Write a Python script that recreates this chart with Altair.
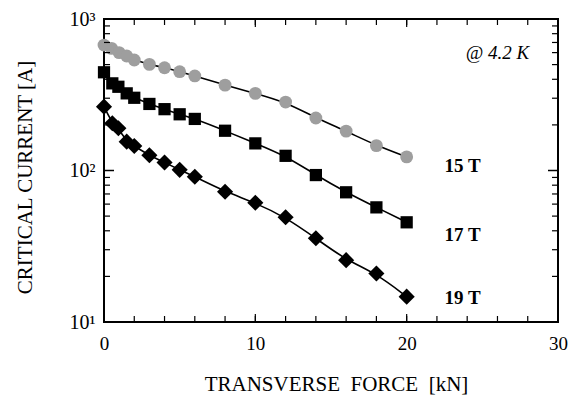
import altair as alt
import pandas as pd

# ---- data ----
force_15 = [0, 0.5, 1.0, 1.5, 2, 3, 4, 5, 6, 8, 10, 12, 14, 16, 18, 20]
ic_15 = [673, 640, 600, 570, 536, 502, 477, 449, 421, 366, 323, 283, 222, 182, 146, 123]

force_17 = [0, 0.55, 0.95, 1.5, 2, 3, 4, 5, 6, 8, 10, 12, 14, 16, 18, 20]
ic_17 = [445, 376, 357, 323, 302, 275, 254, 235, 219, 183, 151, 125, 93.3, 71.8, 57.1, 45.5]

force_19 = [0, 0.55, 0.95, 1.5, 2, 3, 4, 5, 6, 8, 10, 12, 14, 16, 18, 20]
ic_19 = [264, 205, 190, 155, 145, 126, 113, 101, 91, 72.4, 61.2, 49.1, 35.7, 25.6, 20.9, 14.7]

series_names = ["15 T", "17 T", "19 T"]
label_x = [23.7, 23.7, 23.7]
label_y = [107.7, 37.5, 14.3]

note_text = ["@ 4.2 K"]
note_x = [26.0]
note_y = [592]

x_tick_labels = [0, 10, 20, 30]
y_tick_labels = [10, 100, 1000]
x_minor = [v for v in range(0, 31, 2)]
y_major = [10, 100, 1000]
y_minor = [m * d for d in (10, 100) for m in range(2, 10)]

# ---- tables ----
rows = []
for name, xs, ys in zip(series_names, [force_15, force_17, force_19], [ic_15, ic_17, ic_19]):
    for xv, yv in zip(xs, ys):
        rows.append({"series": name, "force": xv, "ic": yv})
df = pd.DataFrame(rows)
labels_df = pd.DataFrame({"text": series_names, "x": label_x, "y": label_y})
note_df = pd.DataFrame({"text": note_text, "x": note_x, "y": note_y})
xminor_df = pd.DataFrame({"x": x_minor})
xmajor_df = pd.DataFrame({"x": x_tick_labels})
ymajor_df = pd.DataFrame({"y": y_major})
yminor_df = pd.DataFrame({"y": y_minor})

W, H = 454, 303
FONT = "Liberation Serif"

xscale = alt.Scale(domain=[0, 30], nice=False, zero=False)
yscale = alt.Scale(type="log", domain=[10, 1000], nice=False)

sup = "datum.value == 1000 ? '10\u00b3' : (datum.value == 100 ? '10\u00b2' : '10\u00b9')"

x_enc = alt.X("force:Q", scale=xscale,
              axis=alt.Axis(values=x_tick_labels, ticks=False, domain=False, grid=False,
                            labelFont=FONT, labelFontSize=19, labelColor="black",
                            labelPadding=12, labelFlush=False,
                            title="TRANSVERSE\u00a0\u00a0FORCE\u00a0\u00a0[kN]",
                            titleFont=FONT, titleFontSize=21, titleFontWeight="normal",
                            titleColor="black", titleX=232, titleY=68,
                            titleBaseline="alphabetic", titleAlign="center"))
y_enc = alt.Y("ic:Q", scale=yscale,
              axis=alt.Axis(values=y_tick_labels, labelExpr=sup, ticks=False, domain=False,
                            grid=False, labelFont=FONT, labelFontSize=20, labelColor="black",
                            labelPadding=9, labelFlush=False,
                            title="CRITICAL CURRENT [A]", titleFont=FONT, titleFontSize=21,
                            titleFontWeight="normal", titleColor="black",
                            titleX=-79, titleY=158, titleAngle=270,
                            titleBaseline="middle", titleAlign="center"))

base = alt.Chart(df)

lines = base.mark_line(color="black", strokeWidth=1.6, interpolate="basis").encode(
    x=x_enc, y=y_enc, detail="series:N"
)

pts15 = base.transform_filter(alt.datum.series == "15 T").mark_point(
    shape="circle", filled=True, size=165, color="#9e9e9e", opacity=1
).encode(x="force:Q", y="ic:Q")
pts17 = base.transform_filter(alt.datum.series == "17 T").mark_point(
    shape="square", filled=True, size=150, color="black", opacity=1
).encode(x="force:Q", y="ic:Q")
pts19 = base.transform_filter(alt.datum.series == "19 T").mark_point(
    shape="diamond", filled=True, size=260, color="black", opacity=1
).encode(x="force:Q", y="ic:Q")

labels = alt.Chart(labels_df).mark_text(
    font=FONT, fontSize=19, fontWeight="bold", color="black", align="center", baseline="middle"
).encode(x="x:Q", y="y:Q", text="text:N")

note = alt.Chart(note_df).mark_text(
    font=FONT, fontSize=19, fontStyle="italic", color="black", align="center", baseline="middle"
).encode(x="x:Q", y="y:Q", text="text:N")

tick_col = "black"
xb_minor = alt.Chart(xminor_df).mark_rule(color=tick_col, strokeWidth=1.2).encode(
    x="x:Q", y=alt.value(H), y2=alt.value(H - 6))
xt_minor = alt.Chart(xminor_df).mark_rule(color=tick_col, strokeWidth=1.2).encode(
    x="x:Q", y=alt.value(0), y2=alt.value(6))
xb_major = alt.Chart(xmajor_df).mark_rule(color=tick_col, strokeWidth=1.2).encode(
    x="x:Q", y=alt.value(H), y2=alt.value(H - 8))
xt_major = alt.Chart(xmajor_df).mark_rule(color=tick_col, strokeWidth=1.2).encode(
    x="x:Q", y=alt.value(0), y2=alt.value(8))
yl_major = alt.Chart(ymajor_df).mark_rule(color=tick_col, strokeWidth=1.5).encode(
    y="y:Q", x=alt.value(0), x2=alt.value(10))
yr_major = alt.Chart(ymajor_df).mark_rule(color=tick_col, strokeWidth=1.5).encode(
    y="y:Q", x=alt.value(W), x2=alt.value(W - 10))
yl_minor = alt.Chart(yminor_df).mark_rule(color=tick_col, strokeWidth=1.2).encode(
    y="y:Q", x=alt.value(0), x2=alt.value(6))
yr_minor = alt.Chart(yminor_df).mark_rule(color=tick_col, strokeWidth=1.2).encode(
    y="y:Q", x=alt.value(W), x2=alt.value(W - 6))

chart = alt.layer(
    lines, pts15, pts17, pts19, labels, note,
    xb_minor, xt_minor, xb_major, xt_major, yl_major, yr_major, yl_minor, yr_minor
).properties(
    width=W, height=H,
    autosize=alt.AutoSizeParams(type="none"),
    padding={"left": 104, "top": 19, "right": 16, "bottom": 74},
    background="white",
).configure_view(stroke="black", strokeWidth=2)

chart.save("out.html", embed_options={"renderer": "svg", "actions": False})
